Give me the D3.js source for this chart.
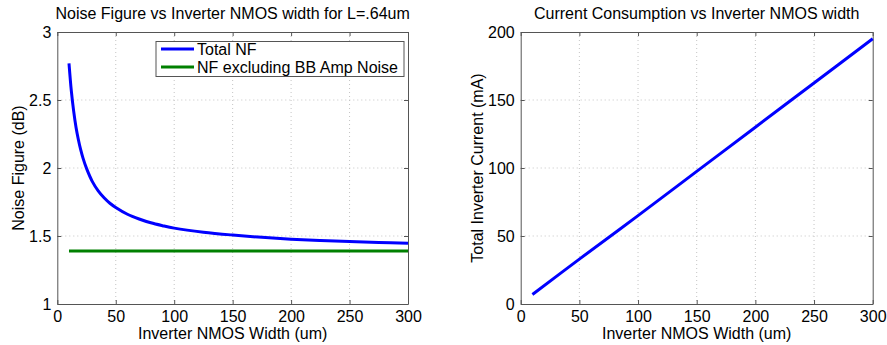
<!DOCTYPE html>
<html><head><meta charset="utf-8">
<script src="https://cdn.jsdelivr.net/npm/d3@7"></script>
<style>
body{margin:0;background:#fff;}
svg text{font-family:"Liberation Sans",Arial,sans-serif;fill:#000;}
</style></head>
<body><svg id="c" width="887" height="345"></svg>
<script>
// ---- data ----
const nfWidths = [10,12,14,16,18,20,22,25,30,35,40,45,50,60,70,80,90,100,125,150,175,200,225,250,275,300];
const totalNF  = [2.77,2.567,2.418,2.30,2.21,2.135,2.073,1.997,1.90,1.832,1.781,1.741,1.71,1.66,1.625,1.597,1.576,1.558,1.528,1.507,1.49,1.477,1.467,1.459,1.452,1.446];
const nfExclWidths = [10,300];
const nfExclBB = [1.39,1.39];
const curWidths = [10,50,100,150,200,250,300];
const current   = [7,33,65,97.5,130,162.5,195];
const xTicks = [0,50,100,150,200,250,300];
const nfTicks = [1,1.5,2,2.5,3];
const curTicks = [0,50,100,150,200];
const leftTitle = "Noise Figure vs Inverter NMOS width for L=.64um";
const rightTitle = "Current Consumption vs Inverter NMOS width";
const xLabel = "Inverter NMOS Width (um)";
const leftYLabel = "Noise Figure (dB)";
const rightYLabel = "Total Inverter Current (mA)";
const legendNames = ["Total NF","NF excluding BB Amp Noise"];

const svg = d3.select("#c");
const FS = 16;
const fmt = d => String(d);

function panel(o){
  const g = svg.append("g");
  const x = d3.scaleLinear().domain([0,300]).range([o.l,o.r]);
  const y = d3.scaleLinear().domain(o.ydom).range([o.b,o.t]);
  // grid
  g.append("g").selectAll("line").data(xTicks.slice(1,-1)).join("line")
    .attr("x1",d=>x(d)).attr("x2",d=>x(d)).attr("y1",o.t).attr("y2",o.b)
    .attr("stroke","#c4c4c4").attr("stroke-width",1).attr("stroke-dasharray","1,3");
  g.append("g").selectAll("line").data(o.yticks.slice(1,-1)).join("line")
    .attr("y1",d=>y(d)).attr("y2",d=>y(d)).attr("x1",o.l).attr("x2",o.r)
    .attr("stroke","#c4c4c4").attr("stroke-width",1).attr("stroke-dasharray","1,3");
  // axes (ticks inward)
  const axB = g.append("g").attr("transform",`translate(0,${o.b})`)
    .call(d3.axisBottom(x).tickValues(xTicks).tickFormat(fmt).tickSizeInner(-4).tickSizeOuter(0).tickPadding(7));
  const axT = g.append("g").attr("transform",`translate(0,${o.t})`)
    .call(d3.axisTop(x).tickValues(xTicks).tickSizeInner(-4).tickSizeOuter(0).tickFormat(""));
  const axL = g.append("g").attr("transform",`translate(${o.l},0)`)
    .call(d3.axisLeft(y).tickValues(o.yticks).tickFormat(fmt).tickSizeInner(-4).tickSizeOuter(0).tickPadding(6));
  const axR = g.append("g").attr("transform",`translate(${o.r},0)`)
    .call(d3.axisRight(y).tickValues(o.yticks).tickSizeInner(-4).tickSizeOuter(0).tickFormat(""));
  [axB,axT,axL,axR].forEach(a=>{
    a.selectAll("path").attr("stroke","#555").attr("stroke-width",1);
    a.selectAll("line").attr("stroke","#555");
    a.selectAll("text").style("font-size",FS+"px").style("font-family","Liberation Sans, Arial, sans-serif");
  });
  // titles & labels
  svg.append("text").attr("x",(o.l+o.r)/2).attr("y",o.t-13).attr("text-anchor","middle")
    .style("font-size",FS+"px").text(o.title);
  svg.append("text").attr("x",(o.l+o.r)/2).attr("y",o.b+35).attr("text-anchor","middle")
    .style("font-size",FS+"px").text(xLabel);
  svg.append("text").attr("transform",`translate(${o.ylx},${(o.t+o.b)/2}) rotate(-90)`)
    .attr("text-anchor","middle").attr("dy","0.35em").style("font-size",FS+"px").text(o.ylabel);
  return {g,x,y};
}

// left panel
const L = panel({l:57.3,r:408,t:32,b:304,ydom:[1,3],yticks:nfTicks,title:leftTitle,ylabel:leftYLabel,ylx:18});
const line = d3.line().curve(d3.curveCatmullRom.alpha(0.5));
L.g.append("path").attr("d",line(nfExclWidths.map((w,i)=>[L.x(w),L.y(nfExclBB[i])])))
  .attr("fill","none").attr("stroke","#008000").attr("stroke-width",3);
L.g.append("path").attr("d",line(nfWidths.map((w,i)=>[L.x(w),L.y(totalNF[i])])))
  .attr("fill","none").attr("stroke","#0000ff").attr("stroke-width",3);

// legend
const lg = svg.append("g");
lg.append("rect").attr("x",156).attr("y",41.5).attr("width",248).attr("height",35)
  .attr("fill","#fff").attr("stroke","#555").attr("stroke-width",1);
const legColors = ["#0000ff","#008000"];
legendNames.forEach((n,i)=>{
  const yy = 49 + i*18;
  lg.append("line").attr("x1",161).attr("x2",194).attr("y1",yy).attr("y2",yy)
    .attr("stroke",legColors[i]).attr("stroke-width",3);
  lg.append("text").attr("x",197).attr("y",yy).attr("dy","0.35em").style("font-size",FS+"px").text(n);
});

// right panel
const R = panel({l:520.7,r:872.7,t:32,b:304,ydom:[0,200],yticks:curTicks,title:rightTitle,ylabel:rightYLabel,ylx:477});
R.g.append("path").attr("d",line(curWidths.map((w,i)=>[R.x(w),R.y(current[i])])))
  .attr("fill","none").attr("stroke","#0000ff").attr("stroke-width",3);
</script></body></html>
